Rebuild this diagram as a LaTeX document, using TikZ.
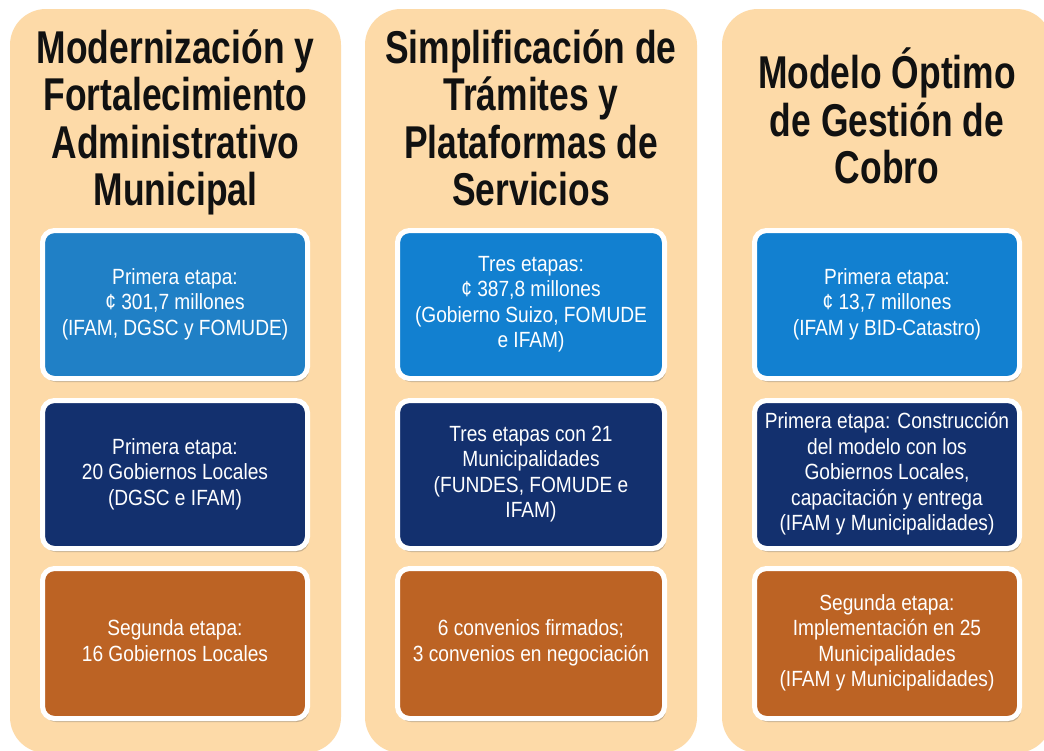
\documentclass[tikz,border=0pt]{standalone}
\usepackage{graphicx}
\usepackage{fontspec}
\setmainfont{Liberation Sans}
\usetikzlibrary{shadows}
\definecolor{peach}{HTML}{FDDAA8}
\definecolor{lblueA}{HTML}{2080C6}
\definecolor{lblueB}{HTML}{1280D0}
\definecolor{navy}{HTML}{13306E}
\definecolor{rust}{HTML}{BC6324}
\definecolor{titleink}{HTML}{111111}
\newcommand\bodytext[1]{\scalebox{0.87}[1]{\fontsize{22}{25.5}\selectfont\begin{tabular}{@{}c@{}}#1\end{tabular}}}
\newcommand\titletext[1]{\scalebox{0.77}[1]{\fontsize{46}{46.5}\selectfont\bfseries\begin{tabular}{@{}c@{}}#1\end{tabular}}}
\tikzset{
  colsty/.style={fill=peach, rounded corners=36pt, inner sep=0pt, draw=none},
  titlesty/.style={text=titleink, inner sep=0pt},
  cardsty/.style={draw=white, line width=5pt, rounded corners=12pt, text=white, inner sep=0pt,
    drop shadow={shadow xshift=1.5pt, shadow yshift=-3.5pt, opacity=0.3, fill=black!70}},
  innerline/.style={draw=white, line width=0.9pt, rounded corners=9pt, opacity=0.9}
}
\newcommand\card[7]{%
  \node[cardsty, fill=#6, minimum width=#4pt, minimum height=#5pt] (#1) at (#2,#3) {\bodytext{#7}};
  \draw[innerline] ([xshift=4.5pt,yshift=-4.5pt]#1.north west) rectangle ([xshift=-4.5pt,yshift=4.5pt]#1.south east);
}
\begin{document}
\begin{tikzpicture}[x=1pt,y=-1pt]
\useasboundingbox (0,0) rectangle (1044,750);
\fill[white] (0,0) rectangle (1044,750);
% columns
\node[colsty, minimum width=331pt, minimum height=744pt] (c1) at (175.5,381) {};
\node[colsty, minimum width=332pt, minimum height=744pt] (c2) at (531,381) {};
\node[colsty, minimum width=330pt, minimum height=744pt] (c3) at (887,381) {};
% titles
\node[titlesty] (t1) at (175.5,124.5) {\titletext{Modernización y\\Fortalecimiento\\Administrativo\\Municipal}};
\node[titlesty] (t2) at (531,124.5) {\titletext{Simplificación de\\Trámites y\\Plataformas de\\Servicios}};
\node[titlesty] (t3) at (887,122.5) {\titletext{Modelo Óptimo\\de Gestión de\\Cobro}};
% column 1
\card{b11}{175}{304.5}{265}{148}{lblueA}{Primera etapa:\\¢ 301,7 millones\\(IFAM, DGSC y FOMUDE)}
\card{b12}{175}{474.5}{265}{148}{navy}{Primera etapa:\\20 Gobiernos Locales\\(DGSC e IFAM)}
\card{b13}{175}{643.5}{265}{150}{rust}{Segunda etapa:\\16 Gobiernos Locales}
% column 2
\card{b21}{531}{304.5}{267}{148}{lblueB}{Tres etapas:\\¢ 387,8 millones\\(Gobierno Suizo, FOMUDE\\e IFAM)}
\card{b22}{531}{474.5}{267}{148}{navy}{Tres etapas con 21\\Municipalidades\\(FUNDES, FOMUDE e\\IFAM)}
\card{b23}{531}{643.5}{267}{150}{rust}{6 convenios firmados;\\3 convenios en negociación}
% column 3
\card{b31}{887}{304.5}{265}{148}{lblueB}{Primera etapa:\\¢ 13,7 millones\\(IFAM y BID-Catastro)}
\card{b32}{887}{474.5}{265}{148}{navy}{Primera etapa: Construcción\\del modelo con los\\Gobiernos Locales,\\capacitación y entrega\\(IFAM y Municipalidades)}
\card{b33}{887}{643.5}{265}{150}{rust}{Segunda etapa:\\Implementación en 25\\Municipalidades\\(IFAM y Municipalidades)}
\end{tikzpicture}
\end{document}
